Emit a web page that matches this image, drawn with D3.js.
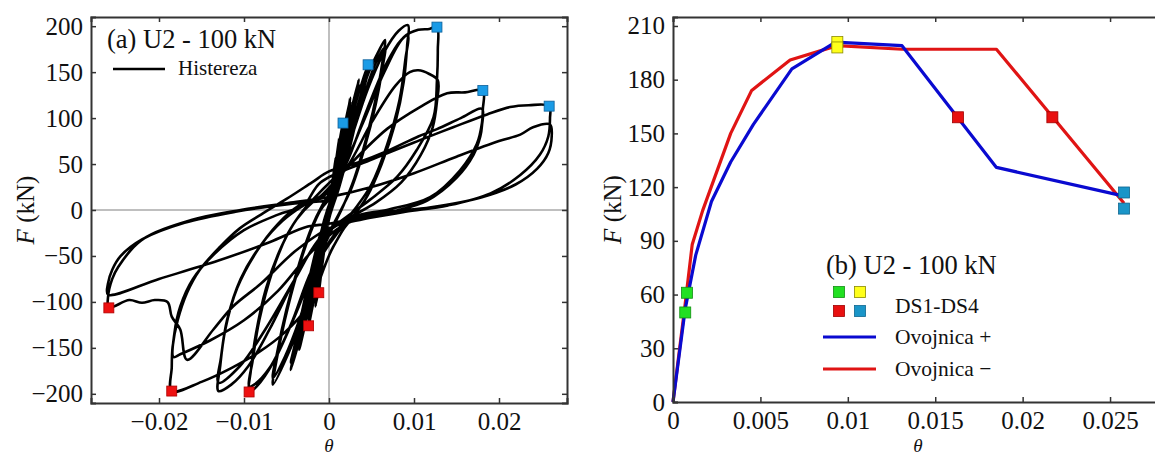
<!DOCTYPE html>
<html><head><meta charset="utf-8">
<script src="https://cdn.jsdelivr.net/npm/d3@7"></script>
<style>
body{margin:0;background:#fff;}
text{font-family:"Liberation Serif","Times New Roman",serif;fill:#111;}
</style></head>
<body>
<svg id="chart" width="1155" height="457"></svg>
<script>
// ---------- Panel (a): hysteresis, [theta, F] ----------
const cycle01 = [[0,0],[0.0004,28],[0.0008,55],[0.0006,38],[0.0002,8],[0,-6],[-0.0004,-32],[-0.0008,-60],[-0.0006,-42],[-0.0002,-10],[0,2]];
const cycle02 = [[0.0004,30],[0.0008,57],[0.0006,40],[0.0002,10],[-0.0001,-8],[-0.0005,-38],[-0.0008,-58],[-0.0006,-40],[-0.0002,-8],[0,4]];
const cycle03 = [[0.0005,32],[0.0009,58],[0.0012,78],[0.001,62],[0.0004,20],[0,-4],[-0.0006,-45],[-0.0012,-90],[-0.001,-72],[-0.0004,-25],[0,2]];
const cycle04 = [[0.0006,35],[0.0012,72],[0.0016,95],[0.0013,75],[0.0006,28],[0.0001,0],[-0.0006,-45],[-0.0012,-85],[-0.0016,-105],[-0.0013,-85],[-0.0006,-35],[0,0]];
const cycle05 = [[0.0007,38],[0.0013,75],[0.0016,92],[0.0013,72],[0.0005,22],[0,-3],[-0.0008,-55],[-0.0016,-100],[-0.0013,-80],[-0.0005,-28],[0.0001,3]];
const cycle06 = [[0.0008,40],[0.0016,80],[0.0025,122],[0.0021,100],[0.0012,52],[0.0004,8],[-0.0003,-20],[-0.0012,-70],[-0.0024,-126],[-0.002,-105],[-0.0011,-55],[-0.0003,-10],[0.0002,8]];
const cycle07 = [[0.001,45],[0.0018,85],[0.0025,117],[0.002,92],[0.0011,45],[0.0003,5],[-0.0005,-28],[-0.0014,-78],[-0.0024,-120],[-0.0019,-95],[-0.001,-45],[-0.0002,-5],[0.0003,10]];
const cycle08 = [[0.0012,50],[0.0024,100],[0.0035,142],[0.003,118],[0.0018,62],[0.0008,18],[0,-10],[-0.001,-50],[-0.0022,-100],[-0.0035,-152],[-0.003,-128],[-0.0018,-68],[-0.0007,-18],[0.0001,8]];
const cycle09 = [[0.0013,52],[0.0025,100],[0.0035,136],[0.0029,110],[0.0017,55],[0.0006,12],[-0.0002,-15],[-0.0013,-60],[-0.0024,-105],[-0.0035,-146],[-0.0029,-118],[-0.0017,-60],[-0.0006,-12],[0.0002,10]];
const cycle10 = [[0.0015,55],[0.003,112],[0.0046,158],[0.004,135],[0.0027,80],[0.0014,32],[0.0003,0],[-0.0008,-35],[-0.002,-85],[-0.0033,-135],[-0.0045,-174],[-0.0039,-148],[-0.0026,-90],[-0.0013,-38],[-0.0002,0]];
const cycle11 = [[0.0012,35],[0.0028,95],[0.0046,150],[0.0039,125],[0.0025,70],[0.0012,25],[0.0002,-3],[-0.001,-40],[-0.0024,-95],[-0.0036,-140],[-0.0045,-166],[-0.0038,-138],[-0.0025,-82],[-0.0012,-32],[0,2]];
const cycle12 = [[0.0014,40],[0.003,100],[0.0046,148],[0.0058,172],[0.0066,185],[0.0064,168],[0.0057,130],[0.0045,82],[0.003,35],[0.0017,5],[0.0005,-18],[-0.0008,-45],[-0.0025,-100],[-0.0045,-150],[-0.0066,-190],[-0.0062,-165],[-0.0052,-120],[-0.0038,-70],[-0.0022,-25],[-0.001,0]];
const cycle13 = [[0.0005,18],[0.002,60],[0.0038,115],[0.0055,160],[0.0066,177],[0.0063,155],[0.0055,115],[0.0042,68],[0.0027,25],[0.0014,0],[0,-25],[-0.0015,-60],[-0.0035,-120],[-0.0052,-160],[-0.0066,-183],[-0.0061,-155],[-0.005,-108],[-0.0035,-58],[-0.002,-18],[-0.0008,5]];
const cycle14 = [[0.0005,25],[0.0025,75],[0.0045,130],[0.0065,172],[0.0082,195],[0.0093,201],[0.0092,180],[0.0088,140],[0.0078,95],[0.0062,50],[0.0045,15],[0.003,-5],[0.001,-25],[-0.0015,-60],[-0.004,-115],[-0.0065,-165],[-0.0085,-192],[-0.0094,-198],[-0.0092,-175],[-0.0086,-135],[-0.0074,-85],[-0.0056,-40],[-0.0038,-10],[-0.002,8]];
const cycle15 = [[0,20],[0.002,50],[0.0045,110],[0.0068,160],[0.0085,185],[0.0093,190],[0.009,165],[0.0083,120],[0.0068,70],[0.005,28],[0.0032,3],[0.001,-22],[-0.002,-65],[-0.0045,-125],[-0.007,-172],[-0.0088,-190],[-0.0094,-192],[-0.009,-165],[-0.0082,-120],[-0.0066,-65],[-0.0048,-25],[-0.003,0]];
const cycle16 = [[-0.001,20],[0.0015,45],[0.004,95],[0.0065,150],[0.0088,188],[0.0105,196],[0.0118,197],[0.0127,199],[0.0128,174],[0.0127,141],[0.0123,101],[0.0103,65],[0.008,36],[0.0048,11],[0.002,-8],[-0.001,-30],[-0.004,-75],[-0.007,-130],[-0.0095,-170],[-0.0115,-190],[-0.013,-197],[-0.0128,-170],[-0.0122,-130],[-0.0108,-85],[-0.0085,-45],[-0.006,-15],[-0.0035,5]];
const cycle17 = [[-0.001,15],[0.002,45],[0.005,95],[0.0078,135],[0.0095,150],[0.0105,152],[0.0118,148],[0.0128,141],[0.0127,118],[0.0122,90],[0.0108,60],[0.0085,30],[0.0055,8],[0.0025,-8],[-0.001,-30],[-0.004,-75],[-0.0075,-130],[-0.0105,-170],[-0.013,-188],[-0.0127,-160],[-0.012,-120],[-0.0104,-75],[-0.008,-38],[-0.0055,-12],[-0.003,5]];
const cycle18 = [[-0.001,15],[0.002,45],[0.0068,88],[0.0107,112],[0.0139,127],[0.016,128],[0.0181,130],[0.0181,110],[0.018,95],[0.0174,72],[0.0154,43],[0.0119,14],[0.0068,0],[0.003,-8],[0.0005,-40],[-0.0025,-105],[-0.0053,-134],[-0.0083,-155],[-0.0115,-172],[-0.015,-187],[-0.0185,-197],[-0.0185,-171],[-0.0184,-149],[-0.0178,-120],[-0.0167,-90],[-0.0152,-65],[-0.0128,-40],[-0.0105,-20],[-0.008,-5],[-0.005,12],[-0.002,30],[0,42]];
const cycle19 = [[0.0035,52],[0.0068,64],[0.0105,80],[0.0127,88],[0.0155,100],[0.018,110],[0.018,92],[0.0178,80],[0.017,60],[0.015,35],[0.0115,10],[0.007,-3],[0.002,-15],[-0.002,-45],[-0.006,-88],[-0.01,-120],[-0.014,-142],[-0.0175,-157],[-0.0183,-160],[-0.0182,-135],[-0.0175,-105],[-0.016,-75],[-0.0135,-48],[-0.01,-22],[-0.006,-5],[-0.003,5]];
const cycle20 = [[-0.001,30],[0.0048,54],[0.0107,76],[0.0146,90],[0.0186,104],[0.0213,112],[0.0235,114],[0.0259,113],[0.026,100],[0.0258,80],[0.0248,60],[0.0225,38],[0.019,18],[0.014,5],[0.009,-2],[0.004,-10],[0,-20],[-0.004,-45],[-0.008,-80],[-0.0113,-105],[-0.0136,-130],[-0.0167,-163],[-0.0175,-130],[-0.0185,-116],[-0.019,-100],[-0.0205,-98],[-0.022,-101],[-0.0235,-98],[-0.0259,-106],[-0.026,-95],[-0.0255,-75],[-0.0248,-62],[-0.0221,-33],[-0.0162,-11],[-0.0104,0],[-0.0045,8],[0,14]];
const cycle21 = [[0.005,25],[0.01,40],[0.015,58],[0.02,75],[0.0225,82],[0.024,90],[0.026,93],[0.0262,80],[0.0258,62],[0.0245,45],[0.022,28],[0.018,14],[0.012,3],[0.006,-3],[0,-15],[-0.0025,-18],[-0.007,-35],[-0.013,-55],[-0.02,-75],[-0.026,-92],[-0.026,-80],[-0.0255,-65],[-0.0245,-50],[-0.022,-32],[-0.017,-14],[-0.011,-2],[-0.005,6],[0,10]];

const dsPosA = [[0.00165,94.6],[0.0046,158],[0.0127,199],[0.0181,130],[0.0259,113]];
const dsNegA = [[-0.0259,-106.5],[-0.0185,-197],[-0.0094,-198],[-0.0012,-90],[-0.0024,-126]];
const xTicksA = [-0.02,-0.01,0,0.01,0.02];
const yTicksA = [-200,-150,-100,-50,0,50,100,150,200];

// ---------- Panel (b): envelopes ----------
const envPos = [[0,0],[0.0007,52],[0.0013,82],[0.0022,112],[0.0033,134],[0.0046,155],[0.0068,186],[0.0093,201],[0.0131,199],[0.0185,131],[0.0258,115]];
const envNeg = [[0,0],[0.0007,55],[0.0011,88],[0.0017,107],[0.0033,150],[0.0045,174],[0.0067,191],[0.0094,199],[0.0131,197],[0.0185,197],[0.0258,111]];
const ds1 = [[0.0008,61],[0.0007,50]];
const ds2 = [[0.0094,201],[0.0094,198]];
const ds3 = [[0.0163,159],[0.0217,159]];
const ds4 = [[0.0258,117],[0.0258,108]];
const xTicksB = [0,0.005,0.01,0.015,0.02,0.025];
const yTicksB = [0,30,60,90,120,150,180,210];

const svg = d3.select("#chart");
const fmt = v => (v < 0 ? "\u2212" : "") + Math.abs(v);
const TICKFS = 25;

function frame(g, x, y, xt, yt, W, H, opts) {
  const ax = "#333";
  g.append("g").attr("transform", `translate(0,${H})`)
    .call(d3.axisBottom(x).tickValues(xt).tickSize(-5).tickPadding(9).tickFormat(fmt))
    .call(s => { s.select(".domain").attr("stroke", ax).attr("stroke-width", 2);
                 s.selectAll(".tick line").attr("stroke", ax).attr("stroke-width", 1.5);
                 s.selectAll("text").attr("font-size", TICKFS).attr("font-family", "Liberation Serif").attr("fill","#111"); });
  g.append("g")
    .call(d3.axisTop(x).tickValues(xt).tickSize(-5).tickFormat(""))
    .call(s => { s.select(".domain").attr("stroke", ax).attr("stroke-width", 2);
                 s.selectAll(".tick line").attr("stroke", ax).attr("stroke-width", 1.5); });
  g.append("g")
    .call(d3.axisLeft(y).tickValues(yt).tickSize(-5).tickPadding(8).tickFormat(fmt))
    .call(s => { s.select(".domain").attr("stroke", ax).attr("stroke-width", 2);
                 s.selectAll(".tick line").attr("stroke", ax).attr("stroke-width", 1.5);
                 s.selectAll("text").attr("font-size", TICKFS).attr("font-family", "Liberation Serif").attr("fill","#111"); });
  if (opts.right) {
    g.append("g").attr("transform", `translate(${W},0)`)
      .call(d3.axisRight(y).tickValues(yt).tickSize(-5).tickFormat(""))
      .call(s => { s.select(".domain").attr("stroke", ax).attr("stroke-width", 2);
                   s.selectAll(".tick line").attr("stroke", ax).attr("stroke-width", 1.5); });
  }
}

function squares(g, x, y, pts, fill, stroke, size) {
  g.selectAll(null).data(pts).enter().append("rect")
    .attr("x", d => x(d[0]) - size/2).attr("y", d => y(d[1]) - size/2)
    .attr("width", size).attr("height", size)
    .attr("fill", fill).attr("stroke", stroke).attr("stroke-width", 0.8);
}

function yLabel(cx, cy) {
  const t = svg.append("text").attr("transform", `translate(${cx},${cy}) rotate(-90)`)
    .attr("text-anchor", "middle").attr("dominant-baseline", "central").attr("font-size", 25);
  t.append("tspan").attr("font-style", "italic").text("F");
  t.append("tspan").text(" (kN)");
}

// ===== Panel A =====
{
  const L = 91, T = 17, W = 476, H = 386;
  const g = svg.append("g").attr("transform", `translate(${L},${T})`);
  const x = d3.scaleLinear().domain([-0.028, 0.028]).range([0, W]);
  const y = d3.scaleLinear().domain([-210, 210]).range([H, 0]);
  g.append("line").attr("x1", x(0)).attr("x2", x(0)).attr("y1", 0).attr("y2", H).attr("stroke", "#aaa").attr("stroke-width", 1.5);
  g.append("line").attr("x1", 0).attr("x2", W).attr("y1", y(0)).attr("y2", y(0)).attr("stroke", "#aaa").attr("stroke-width", 1.5);
  const all = [].concat(cycle01,cycle02,cycle03,cycle04,cycle05,cycle06,cycle07,cycle08,cycle09,cycle10,cycle11,cycle12,cycle13,cycle14,cycle15,cycle16,cycle17,cycle18,cycle19,cycle20,cycle21);
  const line = d3.line().x(d => x(d[0])).y(d => y(d[1])).curve(d3.curveCatmullRom.alpha(0.5));
  g.append("path").attr("d", line(all)).attr("fill", "none").attr("stroke", "#000").attr("stroke-width", 2.6).attr("stroke-linejoin", "round");
  squares(g, x, y, dsPosA, "#1a9be6", "#0d5f99", 10);
  squares(g, x, y, dsNegA, "#ee1111", "#b00000", 10);
  frame(g, x, y, xTicksA, yTicksA, W, H, {right: true});
  g.append("text").attr("x", 16).attr("y", 31).attr("font-size", 26.5).text("(a) U2 - 100 kN");
  g.append("line").attr("x1", 22).attr("x2", 74).attr("y1", 52).attr("y2", 52).attr("stroke", "#000").attr("stroke-width", 2.5);
  g.append("text").attr("x", 87).attr("y", 58).attr("font-size", 21).text("Histereza");
  yLabel(25, T + H/2);
  svg.append("text").attr("x", L + x(0)).attr("y", 452).attr("text-anchor", "middle").attr("font-size", 19).attr("font-style", "italic").text("\u03B8");
}

// ===== Panel B =====
{
  const L = 673, T = 17, W = 486, H = 385;
  const g = svg.append("g").attr("transform", `translate(${L},${T})`);
  const x = d3.scaleLinear().domain([0, 0.0278]).range([0, W]);
  const y = d3.scaleLinear().domain([0, 215]).range([H, 0]);
  const line = d3.line().x(d => x(d[0])).y(d => y(d[1]));
  g.append("path").attr("d", line(envNeg)).attr("fill", "none").attr("stroke", "#e01414").attr("stroke-width", 3.2).attr("stroke-linejoin", "round");
  g.append("path").attr("d", line(envPos)).attr("fill", "none").attr("stroke", "#0a0ad0").attr("stroke-width", 3.2).attr("stroke-linejoin", "round");
  squares(g, x, y, ds1, "#22e022", "#129012", 11);
  squares(g, x, y, ds2, "#ffff1a", "#8a8a00", 11);
  squares(g, x, y, ds3, "#e81010", "#a00000", 11);
  squares(g, x, y, ds4, "#1a95c8", "#0e6690", 11);
  frame(g, x, y, xTicksB, yTicksB, W, H, {right: false});
  svg.append("text").attr("x", 826).attr("y", 274).attr("font-size", 26.5).text("(b) U2 - 100 kN");
  const lg = [["#22e022","#129012",839,292],["#ffff1a","#8a8a00",860,292],["#e81010","#a00000",839,311],["#1a95c8","#0e6690",860,311]];
  lg.forEach(d => svg.append("rect").attr("x", d[2]-5.5).attr("y", d[3]-5.5).attr("width", 11).attr("height", 11).attr("fill", d[0]).attr("stroke", d[1]).attr("stroke-width", 0.8));
  svg.append("text").attr("x", 895).attr("y", 313).attr("font-size", 21.5).text("DS1-DS4");
  svg.append("line").attr("x1", 823).attr("x2", 876).attr("y1", 337).attr("y2", 337).attr("stroke", "#0a0ad0").attr("stroke-width", 3);
  svg.append("text").attr("x", 895).attr("y", 344).attr("font-size", 21.5).text("Ovojnica +");
  svg.append("line").attr("x1", 823).attr("x2", 876).attr("y1", 369).attr("y2", 369).attr("stroke", "#e01414").attr("stroke-width", 3);
  svg.append("text").attr("x", 895).attr("y", 376).attr("font-size", 21.5).text("Ovojnica \u2212");
  yLabel(612, T + H/2);
  svg.append("text").attr("x", 918).attr("y", 452).attr("text-anchor", "middle").attr("font-size", 19).attr("font-style", "italic").text("\u03B8");
}
</script>
</body></html>
